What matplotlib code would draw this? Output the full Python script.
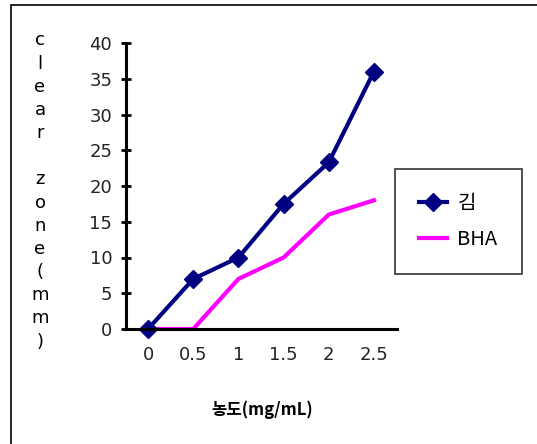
import matplotlib.pyplot as plt
from matplotlib.patches import Rectangle

plt.rcParams['font.family'] = ['DejaVu Sans', 'Noto Sans CJK KR']

conc = ['0', '0.5', '1', '1.5', '2', '2.5']
kim = [0, 7, 10, 17.5, 23.3, 36]
bha = [0, 0, 7, 10, 16, 18]
yticks = [0, 5, 10, 15, 20, 25, 30, 35, 40]

fig = plt.figure(figsize=(5.37, 4.44), dpi=100)
# outer frame (left and top edges show, the rest is cut off)
fig.patches.append(Rectangle((11/537, -0.1), 1.2, 1 - 5/444 + 0.1, transform=fig.transFigure,
                             fill=False, edgecolor='black', linewidth=1.2))

ax = fig.add_axes([125.5/537, 1 - 329/444, 271/537, 286/444])
xs = range(len(conc))
ax.plot(xs, kim, '-D', color='#000080', lw=3, ms=9, label='김', clip_on=False)
ax.plot(xs, bha, '-', color='#FF00FF', lw=3, label='BHA', clip_on=False, zorder=1)

ax.set_xlim(-0.5, 5.5)
ax.set_ylim(0, 40)
ax.set_xticks(list(xs))
ax.set_xticklabels(conc)
ax.set_yticks(yticks)
for s in ['top', 'right']:
    ax.spines[s].set_visible(False)
for s in ['left', 'bottom']:
    ax.spines[s].set_linewidth(2.2)
ax.tick_params(axis='x', length=0, pad=12, labelsize=13, labelcolor='#222222')
ax.tick_params(axis='y', direction='inout', length=7, width=2, pad=6, labelsize=13, labelcolor='#222222')

fig.text(40/537, 1 - 191/444, '\n'.join('clear zone(mm)'), ha='center', va='center',
         fontsize=13, linespacing=1.37, family=['DejaVu Sans'])
fig.text(262/537, 1 - 410/444, '농도(mg/mL)', ha='center', va='center', fontsize=12,
         fontweight='bold', family=['Noto Sans CJK KR', 'DejaVu Sans'])

leg = fig.legend(loc='upper left', bbox_to_anchor=(395/537, 1 - 169/444), frameon=True,
                 prop={'family': ['Noto Sans CJK KR'], 'size': 14.5, 'weight': 'medium'},
                 handlelength=1.4, borderpad=1.2, labelspacing=0.75, borderaxespad=0,
                 handletextpad=0.5, fancybox=False)
leg.get_frame().set_edgecolor('black')
leg.get_frame().set_linewidth(1.2)

fig.savefig('out.png', dpi=100)
